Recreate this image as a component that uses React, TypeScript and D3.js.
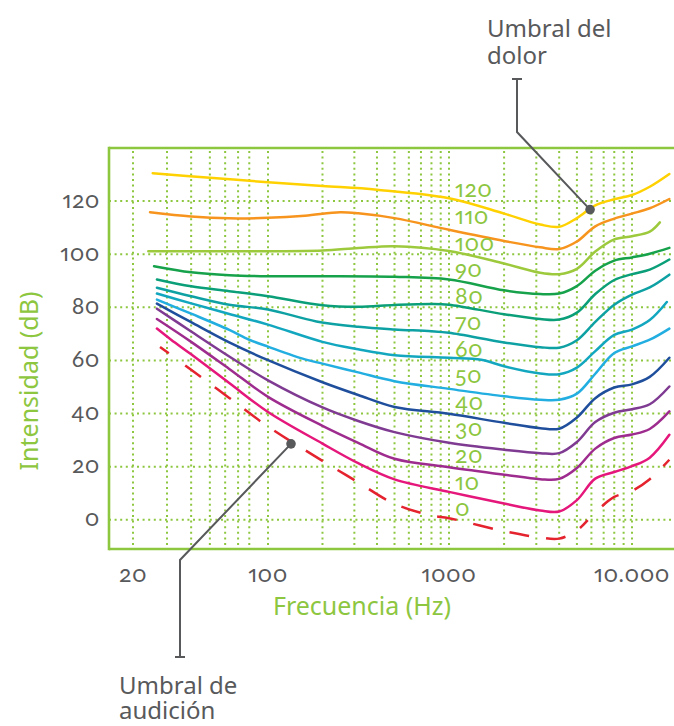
import React from 'react';
import * as d3 from 'd3';

// ---------- data ----------
const phonLevels = [0, 10, 20, 30, 40, 50, 60, 70, 80, 90, 100, 110, 120];
const phonLabels = ['0', '10', '20', '30', '40', '50', '60', '70', '80', '90', '100', '110', '120'];
const curveColors = [
  '#e4232f', '#e5177b', '#9e2c8e', '#7f3a92', '#1f4f9c', '#22aee0', '#13a7bf',
  '#0ea1a3', '#0a9f78', '#16a14b', '#9dc93c', '#f7941d', '#ffd100',
];

// [frequency Hz, level dB]
const phon0: [number, number][] = [[27.6, 65.1], [40, 56.5], [63, 45.9], [100, 35.1], [200, 22.2], [315, 14.1], [500, 6], [800, 1.6], [1000, 0.6], [2000, -4.3], [3150, -6.7], [4000, -7.1], [5000, -4], [6300, 2.8], [8000, 8.6], [10000, 10.9], [12500, 15.3], [16000, 22.6]];
const phon10: [number, number][] = [[26.6, 72], [31.5, 67.8], [40, 62.3], [63, 51.5], [100, 40.6], [200, 28.7], [315, 21.3], [500, 15.2], [1000, 10.5], [2000, 6.1], [3150, 3.5], [4000, 3.1], [5000, 7.4], [6300, 15.5], [8000, 18], [10000, 20.2], [12500, 23.4], [16000, 32]];
const phon20: [number, number][] = [[26.6, 75.6], [40, 67], [63, 56.8], [100, 46.3], [200, 35.4], [315, 29], [500, 23], [1000, 19.8], [2000, 17], [3150, 15.3], [4000, 15.4], [5000, 19.5], [6300, 26.8], [8000, 30.8], [10000, 32.1], [12500, 34.2], [16000, 40.8]];
const phon30: [number, number][] = [[26.6, 79.5], [40, 70.9], [63, 61.5], [100, 52.5], [200, 42.3], [315, 37.2], [500, 33], [1000, 29], [2000, 26.4], [3150, 25.1], [4000, 25.1], [5000, 29.3], [6300, 36.8], [8000, 40.3], [10000, 41.6], [12500, 43.5], [16000, 50.2]];
const phon40: [number, number][] = [[26.6, 81.4], [40, 74.4], [63, 66.8], [100, 60.1], [200, 51.8], [315, 47], [500, 42.5], [1000, 39.9], [2000, 36.5], [3150, 34.5], [4000, 34.3], [5000, 38.5], [6300, 45.8], [8000, 49.8], [10000, 51], [12500, 53.8], [16000, 61]];
const phon50: [number, number][] = [[26.6, 82.9], [40, 77.6], [63, 71.5], [80, 67.8], [100, 65.2], [160, 60.4], [200, 58.8], [315, 55.5], [500, 52.2], [1000, 49.3], [2000, 46.5], [3150, 45.2], [4000, 45.2], [5000, 47.5], [6300, 55], [8000, 62.8], [10000, 65.3], [12500, 67.8], [16000, 72]];
const phon60: [number, number][] = [[26.6, 85.2], [40, 81.5], [63, 77.5], [100, 73.5], [200, 67], [315, 64.2], [500, 62], [1000, 61], [1500, 60.3], [2000, 57.8], [3150, 55.1], [4000, 54.8], [5000, 57.3], [6300, 63.5], [8000, 69.6], [10000, 71.6], [12500, 75.2], [15500, 82]];
const phon70: [number, number][] = [[26.6, 87.4], [40, 84.2], [63, 81], [100, 79.2], [185, 74.7], [315, 72.7], [500, 71.7], [800, 71], [1000, 70.4], [2000, 66.8], [3150, 65], [4000, 64.8], [5000, 67.6], [6300, 74.5], [8000, 81], [10000, 84.8], [12500, 87.5], [16000, 92.3]];
const phon80: [number, number][] = [[26.6, 90.5], [40, 87.9], [63, 86.1], [100, 84.2], [200, 80.8], [315, 80.2], [500, 80.9], [800, 81.3], [1000, 81], [2000, 77.4], [3150, 75.6], [4000, 75.4], [5000, 78], [6300, 85], [8000, 90.3], [10000, 92.5], [12500, 94.2], [16000, 98]];
const phon90: [number, number][] = [[25.7, 95.5], [40, 93.2], [63, 92.1], [100, 91.7], [200, 91.7], [500, 91.5], [1000, 90.5], [2000, 86.4], [3150, 85], [4000, 85.2], [5000, 88], [6300, 93.8], [8000, 97.6], [10000, 98.8], [12500, 100.2], [16000, 102.4]];
const phon100: [number, number][] = [[24, 101.1], [50, 101.1], [100, 101.1], [200, 101.4], [315, 102.3], [500, 103], [1000, 101.2], [2000, 96.5], [3150, 93], [4000, 92.5], [5000, 94.5], [6300, 101], [8000, 105.6], [10000, 106.8], [12500, 108.5], [14200, 112]];
const phon110: [number, number][] = [[24.5, 115.8], [40, 114.2], [63, 113.5], [100, 113.7], [160, 114.5], [250, 115.8], [315, 115.4], [500, 113.6], [1000, 109.2], [2000, 105], [3150, 102.6], [4000, 102], [5000, 104.8], [6300, 110.5], [8000, 113.4], [10000, 115.3], [12500, 117.3], [16000, 120.8]];
const phon120: [number, number][] = [[25.3, 130.5], [50, 128.8], [100, 127.1], [200, 125.7], [400, 124.3], [1000, 121.1], [2000, 115.3], [3150, 111.2], [4000, 110.3], [5000, 113.6], [6300, 118.4], [8000, 120.7], [10000, 122.3], [12500, 125.4], [16000, 130.2]];

const curves = [phon0, phon10, phon20, phon30, phon40, phon50, phon60, phon70, phon80, phon90, phon100, phon110, phon120];

const yTickValues = [0, 20, 40, 60, 80, 100, 120];
const yTickLabels = ['0', '20', '40', '60', '80', '100', '120'];
const xTickValues = [20, 100, 1000, 10000];
const xTickLabels = ['20', '100', '1000', '10.000'];
const gridFreqs = [20, 30, 40, 50, 60, 70, 80, 100, 200, 300, 400, 500, 600, 700, 800, 900, 1000,
  2000, 3000, 4000, 5000, 6000, 7000, 8000, 9000, 10000];

const painAnchor: [number, number] = [5900, 116.8];
const hearingAnchor: [number, number] = [134, 28.6];

const GREEN = '#8dc63f';
const GRAY = '#58595b';
const FONT = "'Noto Sans', 'Open Sans', sans-serif";
const NUM_FONT = "Lato, 'Noto Sans', sans-serif";

export default function App() {
  const x = d3.scaleLog().domain([20, 100, 1000, 10000]).range([133, 268, 449, 632]);
  const y = d3.scaleLinear().domain([-11, 140]).range([549, 148]);
  const line = d3
    .line<[number, number]>()
    .x((d) => x(d[0]))
    .y((d) => y(d[1]))
    .curve(d3.curveCatmullRom.alpha(0.5));

  const left = 109;
  const right = 674;
  const top = y(140);
  const bottom = y(-11);

  const numStyle: React.CSSProperties = {
    fontVariantNumeric: 'oldstyle-nums',
    fontFeatureSettings: '"onum" 1, "pnum" 1',
    letterSpacing: '0.5px',
  };

  const pX = x(painAnchor[0]);
  const pY = y(painAnchor[1]);
  const hX = x(hearingAnchor[0]);
  const hY = y(hearingAnchor[1]);

  return (
    <svg
      width={674}
      height={726}
      style={{ position: 'absolute', left: 0, top: 0, background: '#fff' }}
      fontFamily={FONT}
    >
      {/* grid */}
      <g stroke={GREEN} strokeWidth={2} strokeDasharray="2 3.6" fill="none">
        {gridFreqs.map((f) => (
          <line key={'v' + f} x1={x(f)} x2={x(f)} y1={top + 3} y2={bottom} />
        ))}
        {yTickValues.map((v) => (
          <line key={'h' + v} x1={left} x2={right} y1={y(v)} y2={y(v)} />
        ))}
      </g>
      {/* frame */}
      <g stroke={GREEN} strokeWidth={2.6} fill="none">
        <line x1={left} x2={right} y1={top} y2={top} />
        <line x1={left} x2={right} y1={bottom} y2={bottom} />
        <line x1={left} x2={left} y1={top - 1.3} y2={bottom + 1.3} />
      </g>
      {/* curves */}
      {curves.map((c, i) => (
        <path
          key={'c' + i}
          d={line(c) || ''}
          fill="none"
          stroke={curveColors[i]}
          strokeWidth={2.5}
          strokeLinecap={i === 0 ? 'butt' : 'round'}
          strokeDasharray={i === 0 ? '11 20 20 17 20 17 20 17 20 17 20 17 20 17 20 17 20 17 20 17 20 17 20 17 20 17' : undefined}
        />
      ))}
      {/* curve labels */}
      {phonLevels.map((p, i) => (
        <text key={'l' + p} x={455} y={y(p) - 3.7} fill={GREEN} fontSize={23} fontFamily={NUM_FONT} style={numStyle}>
          {phonLabels[i]}
        </text>
      ))}
      {/* y ticks */}
      {yTickValues.map((v, i) => (
        <text key={'yt' + v} x={100} y={y(v) + 6.5} textAnchor="end" fill={GRAY} fontSize={23} fontFamily={NUM_FONT} style={numStyle}>
          {yTickLabels[i]}
        </text>
      ))}
      {/* x ticks */}
      {xTickValues.map((v, i) => (
        <text key={'xt' + v} x={x(v)} y={582} textAnchor="middle" fill={GRAY} fontSize={23} fontFamily={NUM_FONT} style={numStyle}>
          {xTickLabels[i]}
        </text>
      ))}
      {/* axis titles */}
      <text x={362} y={615} textAnchor="middle" fill={GREEN} fontSize={25}>
        Frecuencia (Hz)
      </text>
      <text transform="translate(38,381) rotate(-90)" textAnchor="middle" fill={GREEN} fontSize={25}>
        Intensidad (dB)
      </text>
      {/* annotations */}
      <g stroke={GRAY} strokeWidth={2} fill="none">
        <line x1={512} x2={522} y1={79} y2={79} />
        <polyline points={`517,79 517,132 ${pX},${pY}`} />
        <line x1={175} x2={185} y1={657} y2={657} />
        <polyline points={`180,657 180,560 ${hX},${hY}`} />
      </g>
      <circle cx={pX} cy={pY} r={4.8} fill={GRAY} />
      <circle cx={hX} cy={hY} r={4.8} fill={GRAY} />
      <text x={487} y={36.5} fill={GRAY} fontSize={24}>
        Umbral del
      </text>
      <text x={487} y={63.5} fill={GRAY} fontSize={24}>
        dolor
      </text>
      <text x={119} y={694} fill={GRAY} fontSize={24}>
        Umbral de
      </text>
      <text x={119} y={719} fill={GRAY} fontSize={24}>
        audición
      </text>
    </svg>
  );
}
